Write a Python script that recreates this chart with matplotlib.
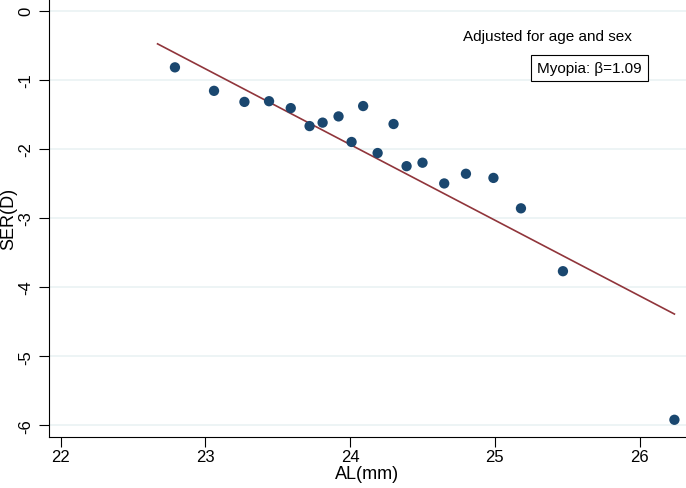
import matplotlib
matplotlib.use("Agg")
import matplotlib.pyplot as plt

plt.rcParams['font.family'] = ['Liberation Sans', 'DejaVu Sans']

# binned means
al_mm = [22.79, 23.06, 23.27, 23.44, 23.59, 23.72, 23.81, 23.92, 24.01, 24.09,
         24.19, 24.30, 24.39, 24.50, 24.65, 24.80, 24.99, 25.18, 25.47, 26.24]
ser_d = [-0.82, -1.16, -1.32, -1.31, -1.41, -1.67, -1.62, -1.53, -1.90, -1.38,
         -2.06, -1.64, -2.25, -2.20, -2.50, -2.36, -2.42, -2.86, -3.77, -5.92]

# adjusted fit line end points
fit_x = [22.67, 26.24]
fit_y = [-0.48, -4.39]

yticks = [0, -1, -2, -3, -4, -5, -6]
xticks = [22, 23, 24, 25, 26]

fig = plt.figure(figsize=(6.86, 4.89), dpi=100)
ax = fig.add_axes([0.0714, 0.1053, 0.9286, 0.8947])

for y in yticks:
    ax.axhline(y, color='#eaf2f3', lw=1.2, zorder=0)

ax.scatter(al_mm, ser_d, s=55, color='#1a476f', edgecolors='none', zorder=3)
ax.plot(fit_x, fit_y, color='#90353b', lw=1.2, zorder=2)

ax.set_xlim(21.92, 26.32)
ax.set_ylim(-6.162, 0.169)
ax.set_xticks(xticks)
ax.set_yticks(yticks)
ax.set_yticklabels([str(t) for t in yticks], rotation=90, va='center')
ax.tick_params(direction='out', length=7, width=0.8, labelsize=12, pad=2)
ax.tick_params(axis='y', pad=4)

for side in ['top', 'right']:
    ax.spines[side].set_visible(False)
for side in ['left', 'bottom']:
    ax.spines[side].set_linewidth(0.8)

ax.set_xlabel('AL(mm)', fontsize=13, labelpad=1)
ax.set_ylabel('SER(D)', fontsize=13, labelpad=1)

ax.text(25.365, -0.37, 'Adjusted for age and sex', fontsize=11,
        ha='center', va='center')
ax.text(25.652, -0.83, 'Myopia: \u03b2=1.09', fontsize=11, ha='center', va='center',
        bbox=dict(boxstyle='square,pad=0.4', facecolor='white',
                  edgecolor='black', linewidth=0.8))

fig.savefig('out.png', dpi=100)
